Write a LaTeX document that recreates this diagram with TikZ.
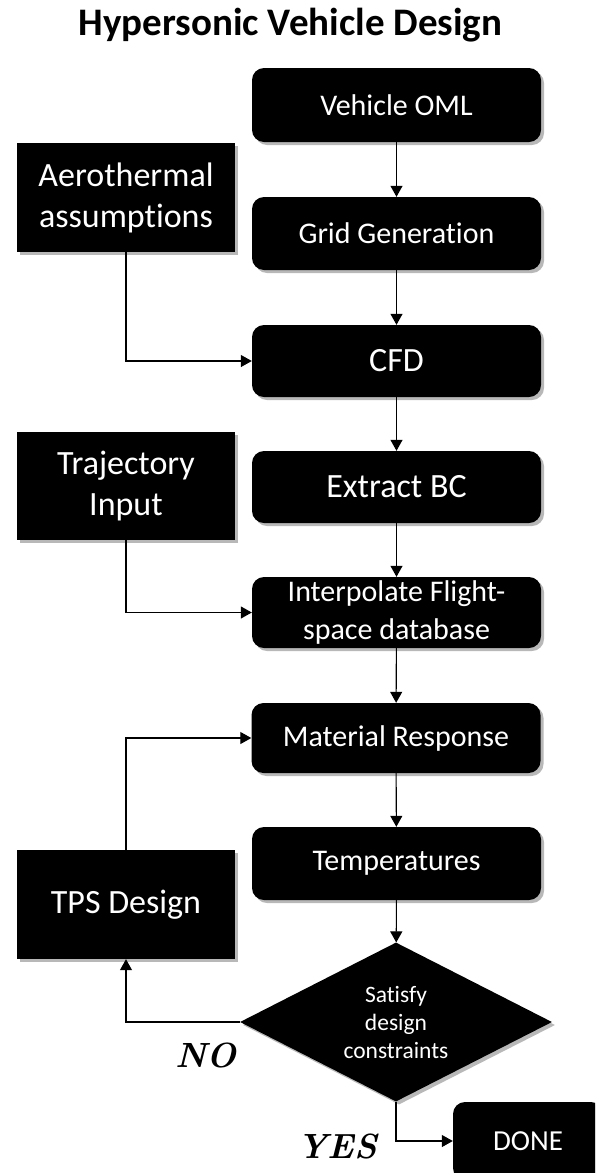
\documentclass[tikz,border=0pt]{standalone}
\usepackage{fontspec}
\setsansfont{Carlito}[Ligatures={NoCommon}]
\usetikzlibrary{shapes.geometric,arrows.meta,shadows}
\begin{document}
\begin{tikzpicture}[x=1pt,y=-1pt,
  shad/.style={drop shadow={shadow xshift=3pt,shadow yshift=-3pt,opacity=0.28,fill=black}},
  box/.style={shad,fill=black,text=white,rounded corners=12pt,minimum width=289pt,minimum height=72pt,inner sep=2pt,align=center,font=\sffamily\fontsize{30}{38}\selectfont},
  bigbox/.style={box,font=\sffamily\fontsize{34}{41}\selectfont},
  sidebox/.style={shad,fill=black,text=white,minimum width=218pt,minimum height=109pt,inner sep=2pt,align=center,font=\sffamily\fontsize{34}{41}\selectfont},
  decision/.style={shad,diamond,fill=black,text=white,minimum width=312pt,minimum height=159pt,inner sep=0pt,aspect=1.96,align=center,font=\sffamily\fontsize{23.5}{28}\selectfont},
  arr/.style={draw=black,line width=1.1pt,-{Triangle[length=11pt,width=12pt]}},
  lbl/.style={font=\rmfamily\bfseries\itshape\fontsize{35}{40}\selectfont,text=black}
]
\useasboundingbox (0,0) rectangle (595,1173);
\clip (0,0) rectangle (595,1173);

\node[font=\sffamily\bfseries\fontsize{39}{46}\selectfont,anchor=base] (title) at (290.5,35) {Hypersonic Vehicle Design};

\node[box,minimum height=74pt] (voml) at (396.5,105) {Vehicle OML};
\node[box,minimum height=73pt] (grid) at (396.5,233.5) {Grid Generation};
\node[bigbox] (cfd) at (396.5,361) {CFD};
\node[bigbox] (extract) at (396.5,487) {Extract BC};
\node[box,minimum height=71pt] (interp) at (396.5,612.5) {Interpolate Flight-\\space database};
\node[box,minimum height=70pt] (material) at (396,738) {Material Response};
\node[box,minimum height=73pt] (temps) at (396.5,863.5) {Temperatures};
\node[decision] (dec) at (396,1022) {Satisfy\\design\\constraints};
\node[box,minimum width=150pt,minimum height=78pt,font=\sffamily\fontsize{29}{35}\selectfont] (done) at (528,1141) {DONE};

\node[sidebox] (aero) at (126,197.5) {Aerothermal\\assumptions};
\node[sidebox,minimum height=108pt] (traj) at (126,486) {Trajectory\\Input};
\node[sidebox] (tps) at (126,904.5) {TPS Design};

\node[lbl] (no) at (206,1055) {NO};
\node[lbl] (yes) at (337,1146) {YES};

\draw[arr] (voml) -- (grid);
\draw[arr] (grid) -- (cfd);
\draw[arr] (cfd) -- (extract);
\draw[arr] (extract) -- (interp);
\draw[arr] (interp) -- (material);
\draw[arr] (material) -- (temps);
\draw[arr] (temps) -- (dec);
\draw[arr] (aero.south) |- (cfd.west);
\draw[arr] (traj.south) |- (interp.west);
\draw[arr] (tps.north) |- (material.west);
\draw[arr] (dec.west) -| (tps.south);
\draw[arr] (dec.south) |- (done.west);
\end{tikzpicture}
\end{document}
